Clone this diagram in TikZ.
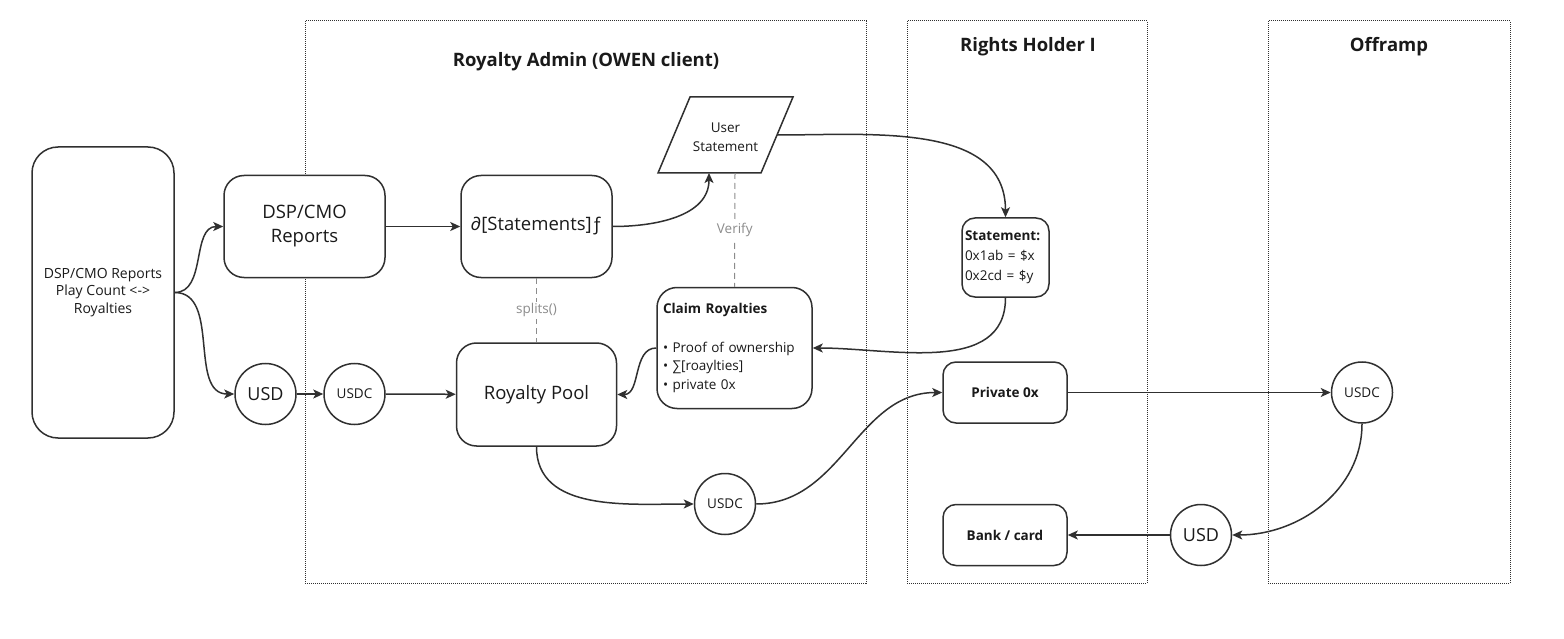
\documentclass[tikz,border=0pt]{standalone}
\usepackage{fontspec}
\setmainfont{Open Sans}
\usetikzlibrary{arrows.meta}
\definecolor{ln}{HTML}{303030}
\definecolor{tx}{HTML}{1A1A1A}
\definecolor{gl}{HTML}{8C8C8C}
\begin{document}
\begin{tikzpicture}[x=1pt,y=1pt,
  box/.style={draw=ln,line width=1.5pt,rounded corners=#1,inner sep=0pt,text=tx,align=center,fill=white},
  box/.default=20pt,
  circ/.style={draw=ln,line width=1.5pt,circle,inner sep=0pt,minimum size=61pt,text=tx,fill=white},
  lane/.style={draw=ln,line width=1pt,dash pattern=on 1pt off 1pt,inner sep=0pt},
  conn/.style={draw=ln,line width=1.5pt,-{Stealth[length=10pt,width=9pt,inset=2.5pt]}},
  hint/.style={draw=gl,line width=1pt,dash pattern=on 6pt off 4pt},
  hintlbl/.style={fill=white,text=gl,font=\fontsize{13.5}{16}\selectfont,inner sep=2pt},
  ttl/.style={font=\bfseries\fontsize{18.5}{22}\selectfont,text=tx},
  big/.style={font=\fontsize{18.5}{24}\selectfont},
  small/.style={font=\fontsize{13.5}{18.5}\selectfont}
]
\useasboundingbox[fill=white] (0,0) rectangle (1564,-639);

% lanes
\node[lane,minimum width=561pt,minimum height=562pt] (adm) at (585.5,-302) {};
\node[lane,minimum width=240pt,minimum height=562pt] (rh) at (1027,-302) {};
\node[lane,minimum width=242pt,minimum height=562pt] (off) at (1389,-302) {};
\node[ttl] (t1) at (586,-62) {Royalty Admin (OWEN client)};
\node[ttl] (t2) at (1028,-47) {Rights Holder I};
\node[ttl] (t3) at (1389,-47) {Offramp};

% nodes
\node[box=26pt,minimum width=142pt,minimum height=291pt,font=\fontsize{14}{17.7}\selectfont] (src) at (103,-292.5) {DSP/CMO Reports\\Play Count <->\\Royalties};
\node[box,big,minimum width=161pt,minimum height=102pt] (dsp) at (304.5,-226.5) {DSP/CMO\\Reports};
\node[box,big,minimum width=151pt,minimum height=102pt] (stm) at (536.5,-226.5) {∂[Statements]ƒ};
\node[box,big,minimum width=160pt,minimum height=103pt] (pool) at (536.5,-394.5) {Royalty Pool};

% user statement parallelogram
\coordinate (pa) at (658,-173);
\coordinate (pb) at (761,-173);
\coordinate (pc) at (793,-97);
\coordinate (pd) at (690,-97);
\draw[ln,line width=1.5pt,line join=miter] (pa) -- (pb) -- (pc) -- (pd) -- cycle;
\node[text=tx,align=center,font=\fontsize{13.5}{19}\selectfont] (ust) at (725.5,-137) {User\\Statement};
\coordinate (usb) at (709,-173);
\coordinate (usv) at (735,-173);
\coordinate (usr) at (777,-135);

\node[box,small,minimum width=155pt,minimum height=121pt,align=left,text width=143pt,inner xsep=6pt] (clm) at (734.5,-348) {{\bfseries\fontsize{13.5}{18.5}\selectfont Claim Royalties}\\[20pt]• Proof of ownership\\• ∑[roaylties]\\• private 0x};

\node[box=13pt,minimum width=87pt,minimum height=79pt,align=left,text width=81pt,inner xsep=3pt,font=\fontsize{13.5}{20}\selectfont] (sb) at (1005.5,-257.5) {{\bfseries Statement:}\\0x1ab = \$x\\0x2cd = \$y};

\node[circ,font=\fontsize{18}{20}\selectfont] (usd) at (265.5,-394) {USD};
\node[circ,font=\fontsize{13.5}{16}\selectfont] (usdc) at (354.5,-394) {USDC};
\node[circ,font=\fontsize{13.5}{16}\selectfont] (usdc2) at (725,-504) {USDC};

\node[box=13pt,minimum width=124pt,minimum height=61pt,font=\bfseries\fontsize{13.5}{16}\selectfont] (prv) at (1005,-392.5) {Private 0x};
\node[box=13pt,minimum width=124pt,minimum height=61pt,font=\bfseries\fontsize{13.5}{16}\selectfont] (bank) at (1005,-535) {Bank / card};
\node[circ,font=\fontsize{13.5}{16}\selectfont] (usdc3) at (1362,-392.5) {USDC};
\node[circ,font=\fontsize{18}{20}\selectfont] (usd2) at (1201,-535) {USD};

% connectors
\draw[conn] (src.east) to[out=0,in=180] (dsp.west);
\draw[conn] (src.east) to[out=0,in=180] (usd.west);
\draw[conn] (usd) -- (usdc);
\draw[conn] (usdc) -- (pool);
\draw[conn] (dsp) -- (stm);
\draw[conn] (stm.east) to[out=0,in=-90] (usb);
\draw[conn] (usr) to[out=0,in=90] (sb.north);
\draw[conn] (sb.south) to[out=-90,in=0] (clm.east);
\draw[conn] (clm.west) to[out=180,in=0] (pool.east);
\draw[conn] (pool.south) to[out=-90,in=180] (usdc2.west);
\draw[conn] (usdc2.east) to[out=0,in=180] (prv.west);
\draw[conn] (prv) -- (usdc3);
\draw[conn] (usdc3.south) to[out=-90,in=0] (usd2.east);
\draw[conn] (usd2) -- (bank);

\draw[hint] (usv) -- (clm.north) node[midway,hintlbl] (vl) {Verify};
\draw[hint] (stm.south) -- (pool.north) node[midway,hintlbl] (sl) {splits()};
\end{tikzpicture}
\end{document}
